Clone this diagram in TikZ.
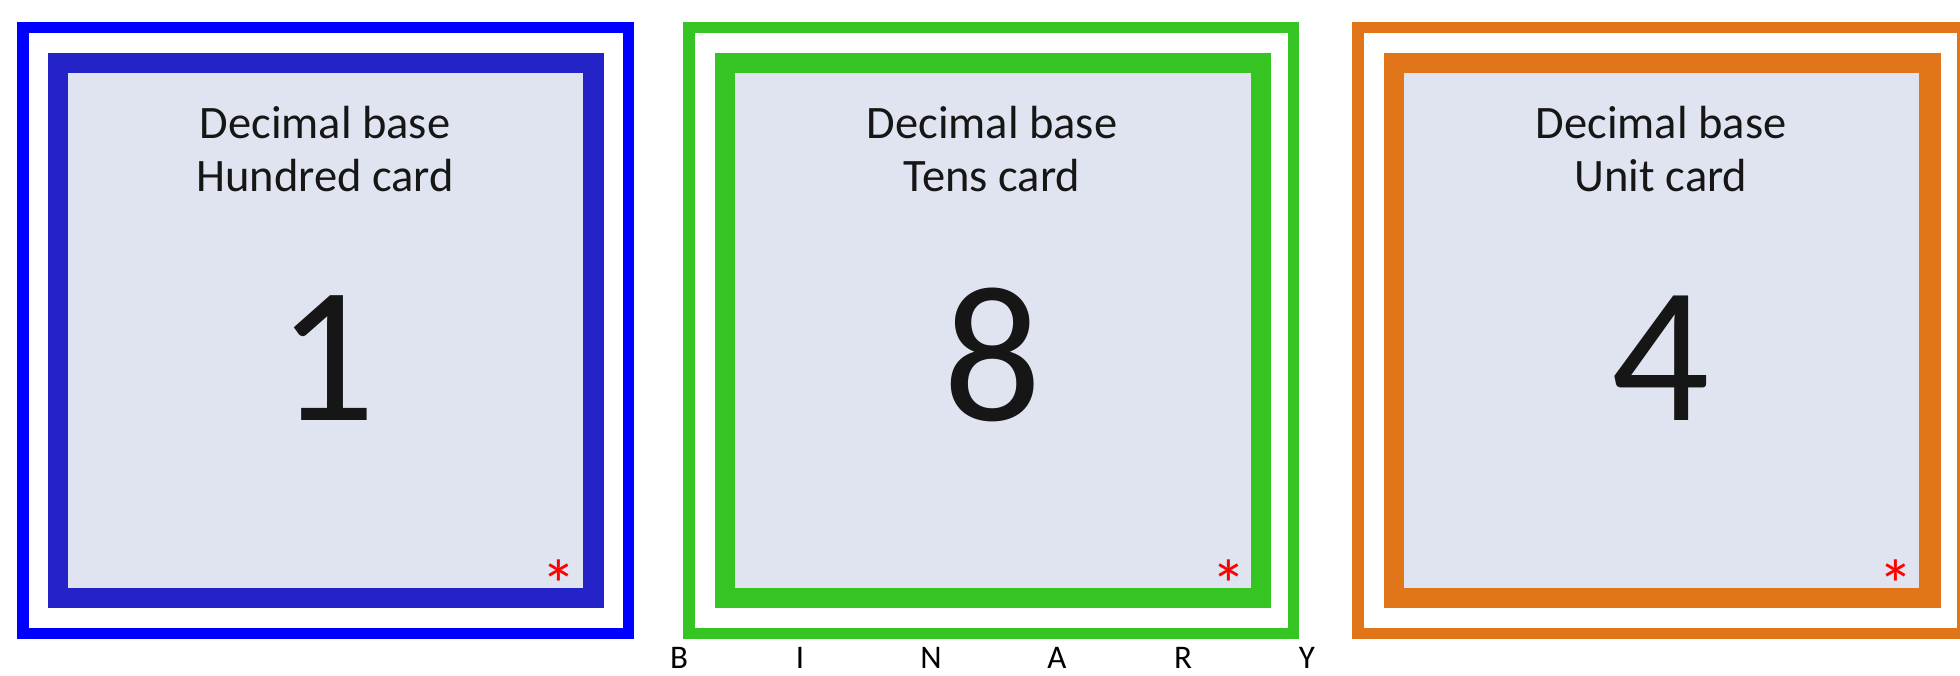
\documentclass[tikz,border=0pt]{standalone}
\usepackage{fontspec}
\newfontfamily\cardfont{Carlito}

\definecolor{hundredblue}{RGB}{0,0,255}
\definecolor{hundreddark}{RGB}{35,35,200}
\definecolor{tensgreen}{RGB}{54,196,35}
\definecolor{unitorange}{RGB}{224,117,25}
\definecolor{cardbg}{RGB}{223,228,240}
\definecolor{inkgrey}{RGB}{22,22,22}

\begin{document}
\begin{tikzpicture}[
    x=1pt, y=-1pt,
    outerframe/.style={draw=#1, line width=11.5pt},
    innerframe/.style={fill=#1},
    cardface/.style={fill=cardbg},
    titletext/.style={anchor=base, text=inkgrey, inner sep=0pt,
        font=\cardfont\fontsize{46.5}{53}\selectfont},
    bignumber/.style={anchor=base, text=inkgrey, inner sep=0pt,
        font=\cardfont\fontsize{194}{194}\selectfont},
    redstar/.style={anchor=base, text=red, inner sep=0pt,
        font=\cardfont\fontsize{70}{70}\selectfont},
    binletter/.style={anchor=base, text=black, inner sep=0pt,
        font=\cardfont\fontsize{33}{33}\selectfont}
]
\useasboundingbox (0,0) rectangle (1960,676);
\clip (0,0) rectangle (1960,676);

%------------------------------------------------
% hundred card
%------------------------------------------------
\draw[outerframe=hundredblue] (22.75,27.75) rectangle (628.25,633.25);
\fill[innerframe=hundreddark] (48,53) rectangle (604,608);
\fill[cardface] (68,73) rectangle (583,588);

\node[titletext] (hundredtop) at (325,139) {Decimal base};
\node[titletext] (hundredsub) at (325,192) {Hundred card};
\node[bignumber] (hundreddigit) at (327,420) {1};
\node[redstar] (hundredstar) at (559,609) {*};

%------------------------------------------------
% tens card
%------------------------------------------------
\draw[outerframe=tensgreen] (688.75,27.75) rectangle (1293.25,633.25);
\fill[innerframe=tensgreen] (715,53) rectangle (1271,608);
\fill[cardface] (735,73) rectangle (1251,588);

\node[titletext] (tenstop) at (992,139) {Decimal base};
\node[titletext] (tenssub) at (992,192) {Tens card};
\node[bignumber] (tensdigit) at (993,420) {8};
\node[redstar] (tensstar) at (1229,609) {*};

%------------------------------------------------
% unit card
%------------------------------------------------
\draw[outerframe=unitorange] (1357.75,27.75) rectangle (1962.25,633.25);
\fill[innerframe=unitorange] (1384,53) rectangle (1941,608);
\fill[cardface] (1404,73) rectangle (1919,588);

\node[titletext] (unittop) at (1661,139) {Decimal base};
\node[titletext] (unitsub) at (1661,192) {Unit card};
\node[bignumber] (unitdigit) at (1661,420) {4};
\node[redstar] (unitstar) at (1896,609) {*};

% letters under the tens card
\node[binletter] (binB) at (679,668) {B};
\node[binletter] (binI) at (800,668) {I};
\node[binletter] (binN) at (931,668) {N};
\node[binletter] (binA) at (1057,668) {A};
\node[binletter] (binR) at (1183,668) {R};
\node[binletter] (binY) at (1307,668) {Y};

\end{tikzpicture}
\end{document}
